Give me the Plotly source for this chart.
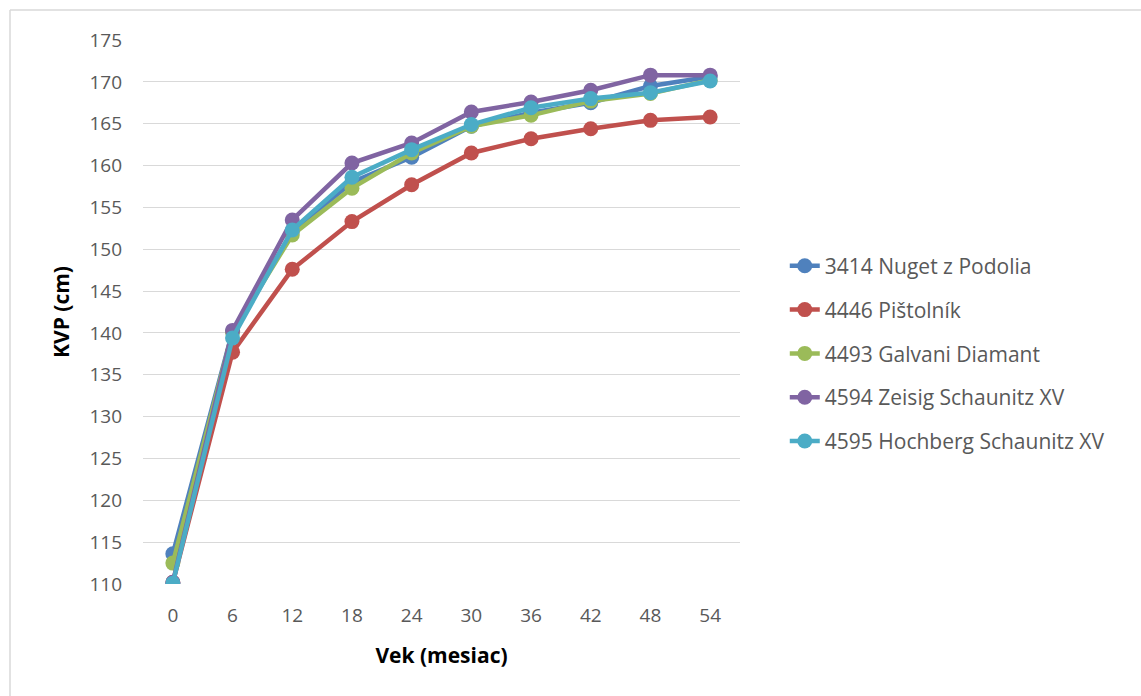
import plotly.graph_objects as go

# Age in months (x categories)
age_months = [0, 6, 12, 18, 24, 30, 36, 42, 48, 54]

# KVP (withers height, cm) per horse
names = [
    "3414 Nuget z Podolia",
    "4446 Pištolník",
    "4493 Galvani Diamant",
    "4594 Zeisig Schaunitz XV",
    "4595 Hochberg Schaunitz XV",
]
kvp_3414 = [113.6, 140.2, 152.1, 158.0, 161.0, 164.7, 166.3, 167.5, 169.5, 170.6]
kvp_4446 = [110.2, 137.7, 147.6, 153.3, 157.7, 161.5, 163.2, 164.4, 165.4, 165.8]
kvp_4493 = [112.5, 140.1, 151.7, 157.3, 161.5, 164.7, 166.0, 167.7, 168.6, 170.2]
kvp_4594 = [110.2, 140.3, 153.5, 160.3, 162.7, 166.4, 167.6, 169.0, 170.8, 170.8]
kvp_4595 = [110.1, 139.4, 152.3, 158.6, 161.9, 164.9, 166.9, 168.0, 168.7, 170.1]

series = [kvp_3414, kvp_4446, kvp_4493, kvp_4594, kvp_4595]
colors = ["#4f81bd", "#c0504d", "#9bbb59", "#8064a2", "#4bacc6"]

y_ticks = list(range(110, 176, 5))

fig = go.Figure()
for name, vals, col in zip(names, series, colors):
    fig.add_trace(go.Scatter(
        x=age_months, y=vals, name=name, mode="lines+markers",
        legendgroup=name,
        line=dict(color=col, width=4.5),
        marker=dict(color=col, size=15),
    ))

font_family = "Open Sans, Liberation Sans, sans-serif"

fig.update_layout(
    width=1141, height=696,
    margin=dict(l=143, r=401, t=40, b=112, autoexpand=False),
    paper_bgcolor="white", plot_bgcolor="white",
    font=dict(family=font_family, size=19, color="#595959"),
    showlegend=True,
    legend=dict(
        x=1.075, xanchor="left", y=0.622, yanchor="top",
        traceorder="grouped", tracegroupgap=13.5,
        font=dict(size=21, color="#595959"),
        bgcolor="rgba(0,0,0,0)",
    ),
    xaxis=dict(
        range=[-3, 57], tickmode="array", tickvals=age_months,
        ticktext=[str(v) for v in age_months],
        showgrid=False, zeroline=False, showline=False, ticks="",
        ticklabelstandoff=18,
        title=dict(text="<b>Vek (mesiac)</b>", font=dict(size=21, color="black"), standoff=21),
    ),
    yaxis=dict(
        range=[110, 175], tickmode="array", tickvals=y_ticks,
        showgrid=True, gridcolor="#d9d9d9", gridwidth=1.3,
        zeroline=False, showline=False, ticks="",
        ticklabelstandoff=20,
        title=dict(text="<b>KVP (cm)</b>", font=dict(size=21, color="black"), standoff=14),
    ),
    shapes=[
        dict(type="line", xref="paper", yref="paper",
             x0=(10 - 143) / 597, x1=(1141 - 143) / 597,
             y0=(696 - 112 - 10) / 544, y1=(696 - 112 - 10) / 544,
             line=dict(color="#d9d9d9", width=1.5)),
        dict(type="line", xref="paper", yref="paper",
             x0=(10 - 143) / 597, x1=(10 - 143) / 597,
             y0=(696 - 112 - 10) / 544, y1=-112 / 544,
             line=dict(color="#d9d9d9", width=1.5)),
    ],
)

fig.write_html("out.html")
